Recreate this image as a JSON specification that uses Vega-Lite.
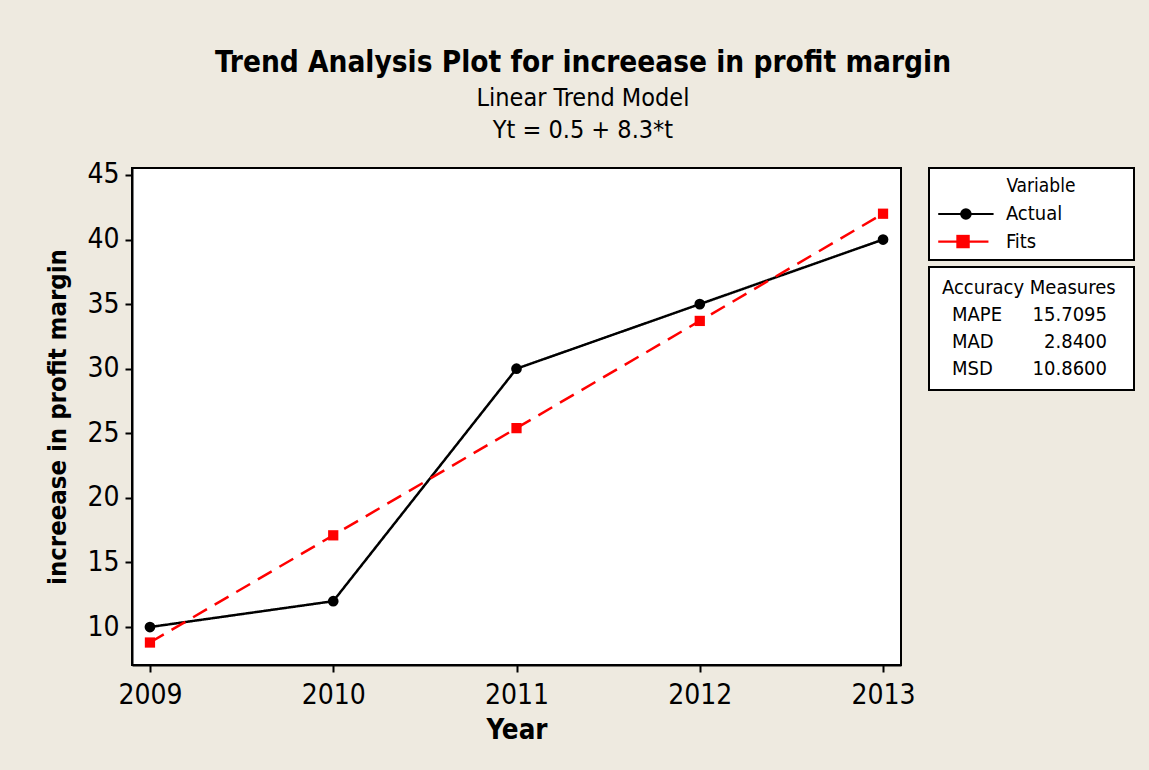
{
  "$schema": "https://vega.github.io/schema/vega-lite/v6.json",
  "background": "#EEEAE0",
  "padding": {"left": 44, "top": 48, "right": 16, "bottom": 29},
  "bounds": "flush",
  "spacing": 28,
  "resolve": {"scale": {"size": "independent"}},
  "title": {
    "text": "Trend Analysis Plot for increease in profit margin",
    "subtitle": ["Linear Trend Model", "Yt = 0.5 + 8.3*t"],
    "font": "DejaVu Sans Condensed",
    "fontSize": 29.5,
    "fontWeight": "bold",
    "color": "black",
    "subtitleFont": "DejaVu Sans Condensed",
    "subtitleFontSize": 25,
    "subtitleColor": "black",
    "subtitleLineHeight": 32,
    "subtitlePadding": 7,
    "anchor": "middle",
    "offset": 16,
    "dx": -7
  },
  "datasets": {
    "trend": [
      {"Year": 2009, "Value": 10, "Variable": "Actual"},
      {"Year": 2010, "Value": 12, "Variable": "Actual"},
      {"Year": 2011, "Value": 30, "Variable": "Actual"},
      {"Year": 2012, "Value": 35, "Variable": "Actual"},
      {"Year": 2013, "Value": 40, "Variable": "Actual"},
      {"Year": 2009, "Value": 8.8, "Variable": "Fits"},
      {"Year": 2010, "Value": 17.1, "Variable": "Fits"},
      {"Year": 2011, "Value": 25.4, "Variable": "Fits"},
      {"Year": 2012, "Value": 33.7, "Variable": "Fits"},
      {"Year": 2013, "Value": 42.0, "Variable": "Fits"}
    ],
    "legend": [
      {"Variable": "Actual", "row": "Actual", "lineStart": 0.45, "lineEnd": 3.15, "marker": 1.8, "labelX": 3.75},
      {"Variable": "Fits", "row": "Fits", "lineStart": 0.45, "lineEnd": 2.9, "marker": 1.66, "labelX": 3.75}
    ],
    "legendTitle": [
      {"text": "Variable", "row": "Variable", "x": 5.46}
    ],
    "accuracy": [
      {"row": "MAPE", "Measure": "MAPE", "Value": 15.7095},
      {"row": "MAD", "Measure": "MAD", "Value": 2.84},
      {"row": "MSD", "Measure": "MSD", "Value": 10.86}
    ],
    "accuracyHeader": [
      {"row": "header", "text": "Accuracy Measures"}
    ]
  },
  "hconcat": [
    {
      "width": 769,
      "height": 497,
      "data": {"name": "trend"},
      "layer": [
        {
          "mark": {"type": "line", "strokeWidth": 2.5},
          "encoding": {
            "x": {
              "field": "Year", "type": "quantitative",
              "scale": {"domain": [2008.902, 2013.098], "nice": false, "zero": false},
              "axis": {"values": [2009, 2010, 2011, 2012, 2013], "format": "d", "title": "Year", "labelPadding": 9, "titlePadding": 7, "titleFontSize": 27.5}
            },
            "y": {
              "field": "Value", "type": "quantitative",
              "scale": {"domain": [7.06, 45.54], "nice": false, "zero": false},
              "axis": {"values": [10, 15, 20, 25, 30, 35, 40, 45], "title": "increease in profit margin", "labelPadding": 6, "titlePadding": 16, "titleFontSize": 25.5}
            },
            "color": {"field": "Variable", "type": "nominal", "scale": {"domain": ["Actual", "Fits"], "range": ["#000000", "#FF0000"]}, "legend": null},
            "strokeDash": {"field": "Variable", "type": "nominal", "scale": {"domain": ["Actual", "Fits"], "range": [[1, 0], [16, 9]]}, "legend": null}
          }
        },
        {
          "mark": {"type": "point", "filled": true, "opacity": 1},
          "encoding": {
            "x": {"field": "Year", "type": "quantitative"},
            "y": {"field": "Value", "type": "quantitative"},
            "color": {"field": "Variable", "type": "nominal", "legend": null},
            "shape": {"field": "Variable", "type": "nominal", "scale": {"domain": ["Actual", "Fits"], "range": ["circle", "square"]}, "legend": null},
            "size": {"field": "Variable", "type": "nominal", "scale": {"domain": ["Actual", "Fits"], "range": [115, 105]}, "legend": null}
          }
        }
      ]
    },
    {
      "spacing": 5,
      "vconcat": [
        {
          "width": 205,
          "height": 92,
          "layer": [
            {
              "data": {"name": "legendTitle"},
              "mark": {"type": "text", "align": "center", "baseline": "middle", "fontSize": 19, "color": "black"},
              "encoding": {
                "x": {"field": "x", "type": "quantitative", "scale": {"domain": [0, 10], "nice": false, "zero": false}, "axis": null},
                "y": {"field": "row", "type": "nominal", "scale": {"type": "point", "domain": ["Variable", "Actual", "Fits"], "padding": 0.67}, "axis": null},
                "text": {"field": "text"}
              }
            },
            {
              "data": {"name": "legend"},
              "mark": {"type": "rule", "strokeWidth": 2.2},
              "encoding": {
                "x": {"field": "lineStart", "type": "quantitative"},
                "x2": {"field": "lineEnd"},
                "y": {"field": "row", "type": "nominal"},
                "color": {"field": "Variable", "type": "nominal", "legend": null}
              }
            },
            {
              "data": {"name": "legend"},
              "mark": {"type": "point", "filled": true, "opacity": 1},
              "encoding": {
                "x": {"field": "marker", "type": "quantitative"},
                "y": {"field": "row", "type": "nominal"},
                "color": {"field": "Variable", "type": "nominal", "legend": null},
                "shape": {"field": "Variable", "type": "nominal", "legend": null},
                "size": {"field": "Variable", "type": "nominal", "scale": {"domain": ["Actual", "Fits"], "range": [135, 180]}, "legend": null}
              }
            },
            {
              "data": {"name": "legend"},
              "mark": {"type": "text", "align": "left", "baseline": "middle", "fontSize": 20, "color": "black"},
              "encoding": {
                "x": {"field": "labelX", "type": "quantitative"},
                "y": {"field": "row", "type": "nominal"},
                "text": {"field": "Variable"}
              }
            }
          ]
        },
        {
          "width": 205,
          "height": 123,
          "layer": [
            {
              "data": {"name": "accuracyHeader"},
              "mark": {"type": "text", "align": "left", "baseline": "middle", "fontSize": 20, "color": "black", "dx": 13},
              "encoding": {
                "y": {"field": "row", "type": "nominal", "scale": {"type": "point", "domain": ["header", "MAPE", "MAD", "MSD"], "padding": 0.8}, "axis": null},
                "x": {"value": 0},
                "text": {"field": "text"}
              }
            },
            {
              "data": {"name": "accuracy"},
              "mark": {"type": "text", "align": "left", "baseline": "middle", "fontSize": 20, "color": "black", "dx": 23},
              "encoding": {
                "y": {"field": "row", "type": "nominal"},
                "x": {"value": 0},
                "text": {"field": "Measure"}
              }
            },
            {
              "data": {"name": "accuracy"},
              "mark": {"type": "text", "align": "right", "baseline": "middle", "fontSize": 20, "color": "black", "dx": -27},
              "encoding": {
                "y": {"field": "row", "type": "nominal"},
                "x": {"value": "width"},
                "text": {"field": "Value", "format": ".4f"}
              }
            }
          ]
        }
      ]
    }
  ],
  "config": {
    "font": "DejaVu Sans Condensed",
    "view": {"stroke": "#000000", "strokeWidth": 2, "fill": "white"},
    "axis": {
      "labelFont": "DejaVu Sans Condensed",
      "labelFontSize": 28,
      "labelColor": "black",
      "tickColor": "black",
      "tickWidth": 2,
      "tickSize": 7,
      "domainColor": "black",
      "domainWidth": 2,
      "grid": false,
      "titleFont": "DejaVu Sans Condensed",
      "titleFontWeight": "bold",
      "titleFontSize": 24,
      "titleColor": "black"
    },
    "text": {"font": "DejaVu Sans Condensed"}
  }
}
